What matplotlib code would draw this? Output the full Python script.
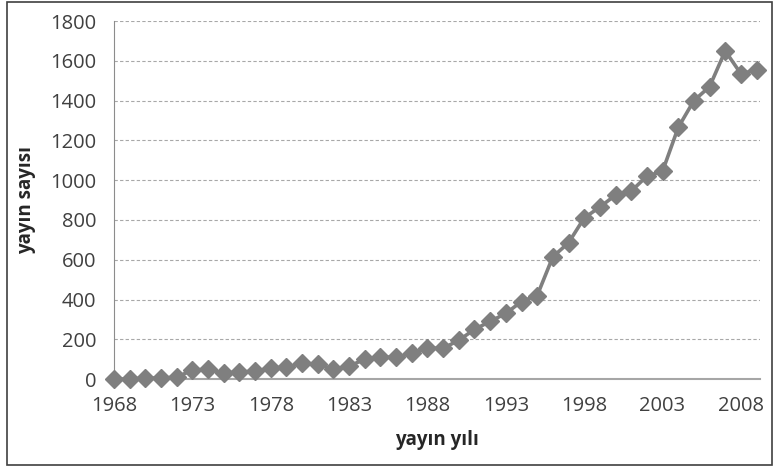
import matplotlib.pyplot as plt
from matplotlib.patches import Rectangle

# yayın sayısı yıllara göre
years = list(range(1968, 2010))
counts = [0, 0, 5, 5, 10, 45, 50, 30, 35, 40,
          55, 60, 80, 75, 50, 65, 100, 110, 110, 130,
          155, 155, 195, 250, 290, 330, 390, 420, 615, 685,
          810, 865, 925, 945, 1020, 1045, 1265, 1400, 1470, 1650,
          1535, 1555]
tick_years = [1968, 1973, 1978, 1983, 1988, 1993, 1998, 2003, 2008]
y_ticks = [0, 200, 400, 600, 800, 1000, 1200, 1400, 1600, 1800]

plt.rcParams['font.family'] = ['Open Sans', 'DejaVu Sans']

fig = plt.figure(figsize=(7.76, 4.68), dpi=100)
ax = fig.add_axes([0.147, 0.190, 0.832, 0.765])

ax.plot(years, counts, color='#7f7f7f', lw=2.6, marker='D', ms=9,
        markeredgecolor='#7f7f7f', clip_on=False, zorder=3)

ax.set_xlim(1968, 2009.2)
ax.set_ylim(0, 1800)
ax.set_xticks(tick_years)
ax.set_yticks(y_ticks)
ax.tick_params(axis='x', length=0, labelsize=14.5, colors='#404040', pad=12)
ax.tick_params(axis='y', length=0, labelsize=14.5, colors='#404040', pad=13)
ax.yaxis.grid(True, ls=(0, (3, 2)), color='#a8a8a8', lw=0.8)
ax.set_axisbelow(True)

for s in ['top', 'right']:
    ax.spines[s].set_visible(False)
ax.spines['left'].set_color('#8c8c8c')
ax.spines['bottom'].set_color('#a6a6a6')
ax.spines['bottom'].set_linewidth(1.5)

ax.set_xlabel('yayın yılı', fontsize=13.5, fontweight='bold', color='#262626', labelpad=10)
ax.set_ylabel('yayın sayısı', fontsize=13.5, fontweight='bold', color='#262626', labelpad=10)

# dış çerçeve
fig.patches.append(Rectangle((0.009, 0.006), 0.986, 0.989, transform=fig.transFigure,
                             fill=False, edgecolor='#404040', lw=1.2))

fig.savefig('out.png', dpi=100)
